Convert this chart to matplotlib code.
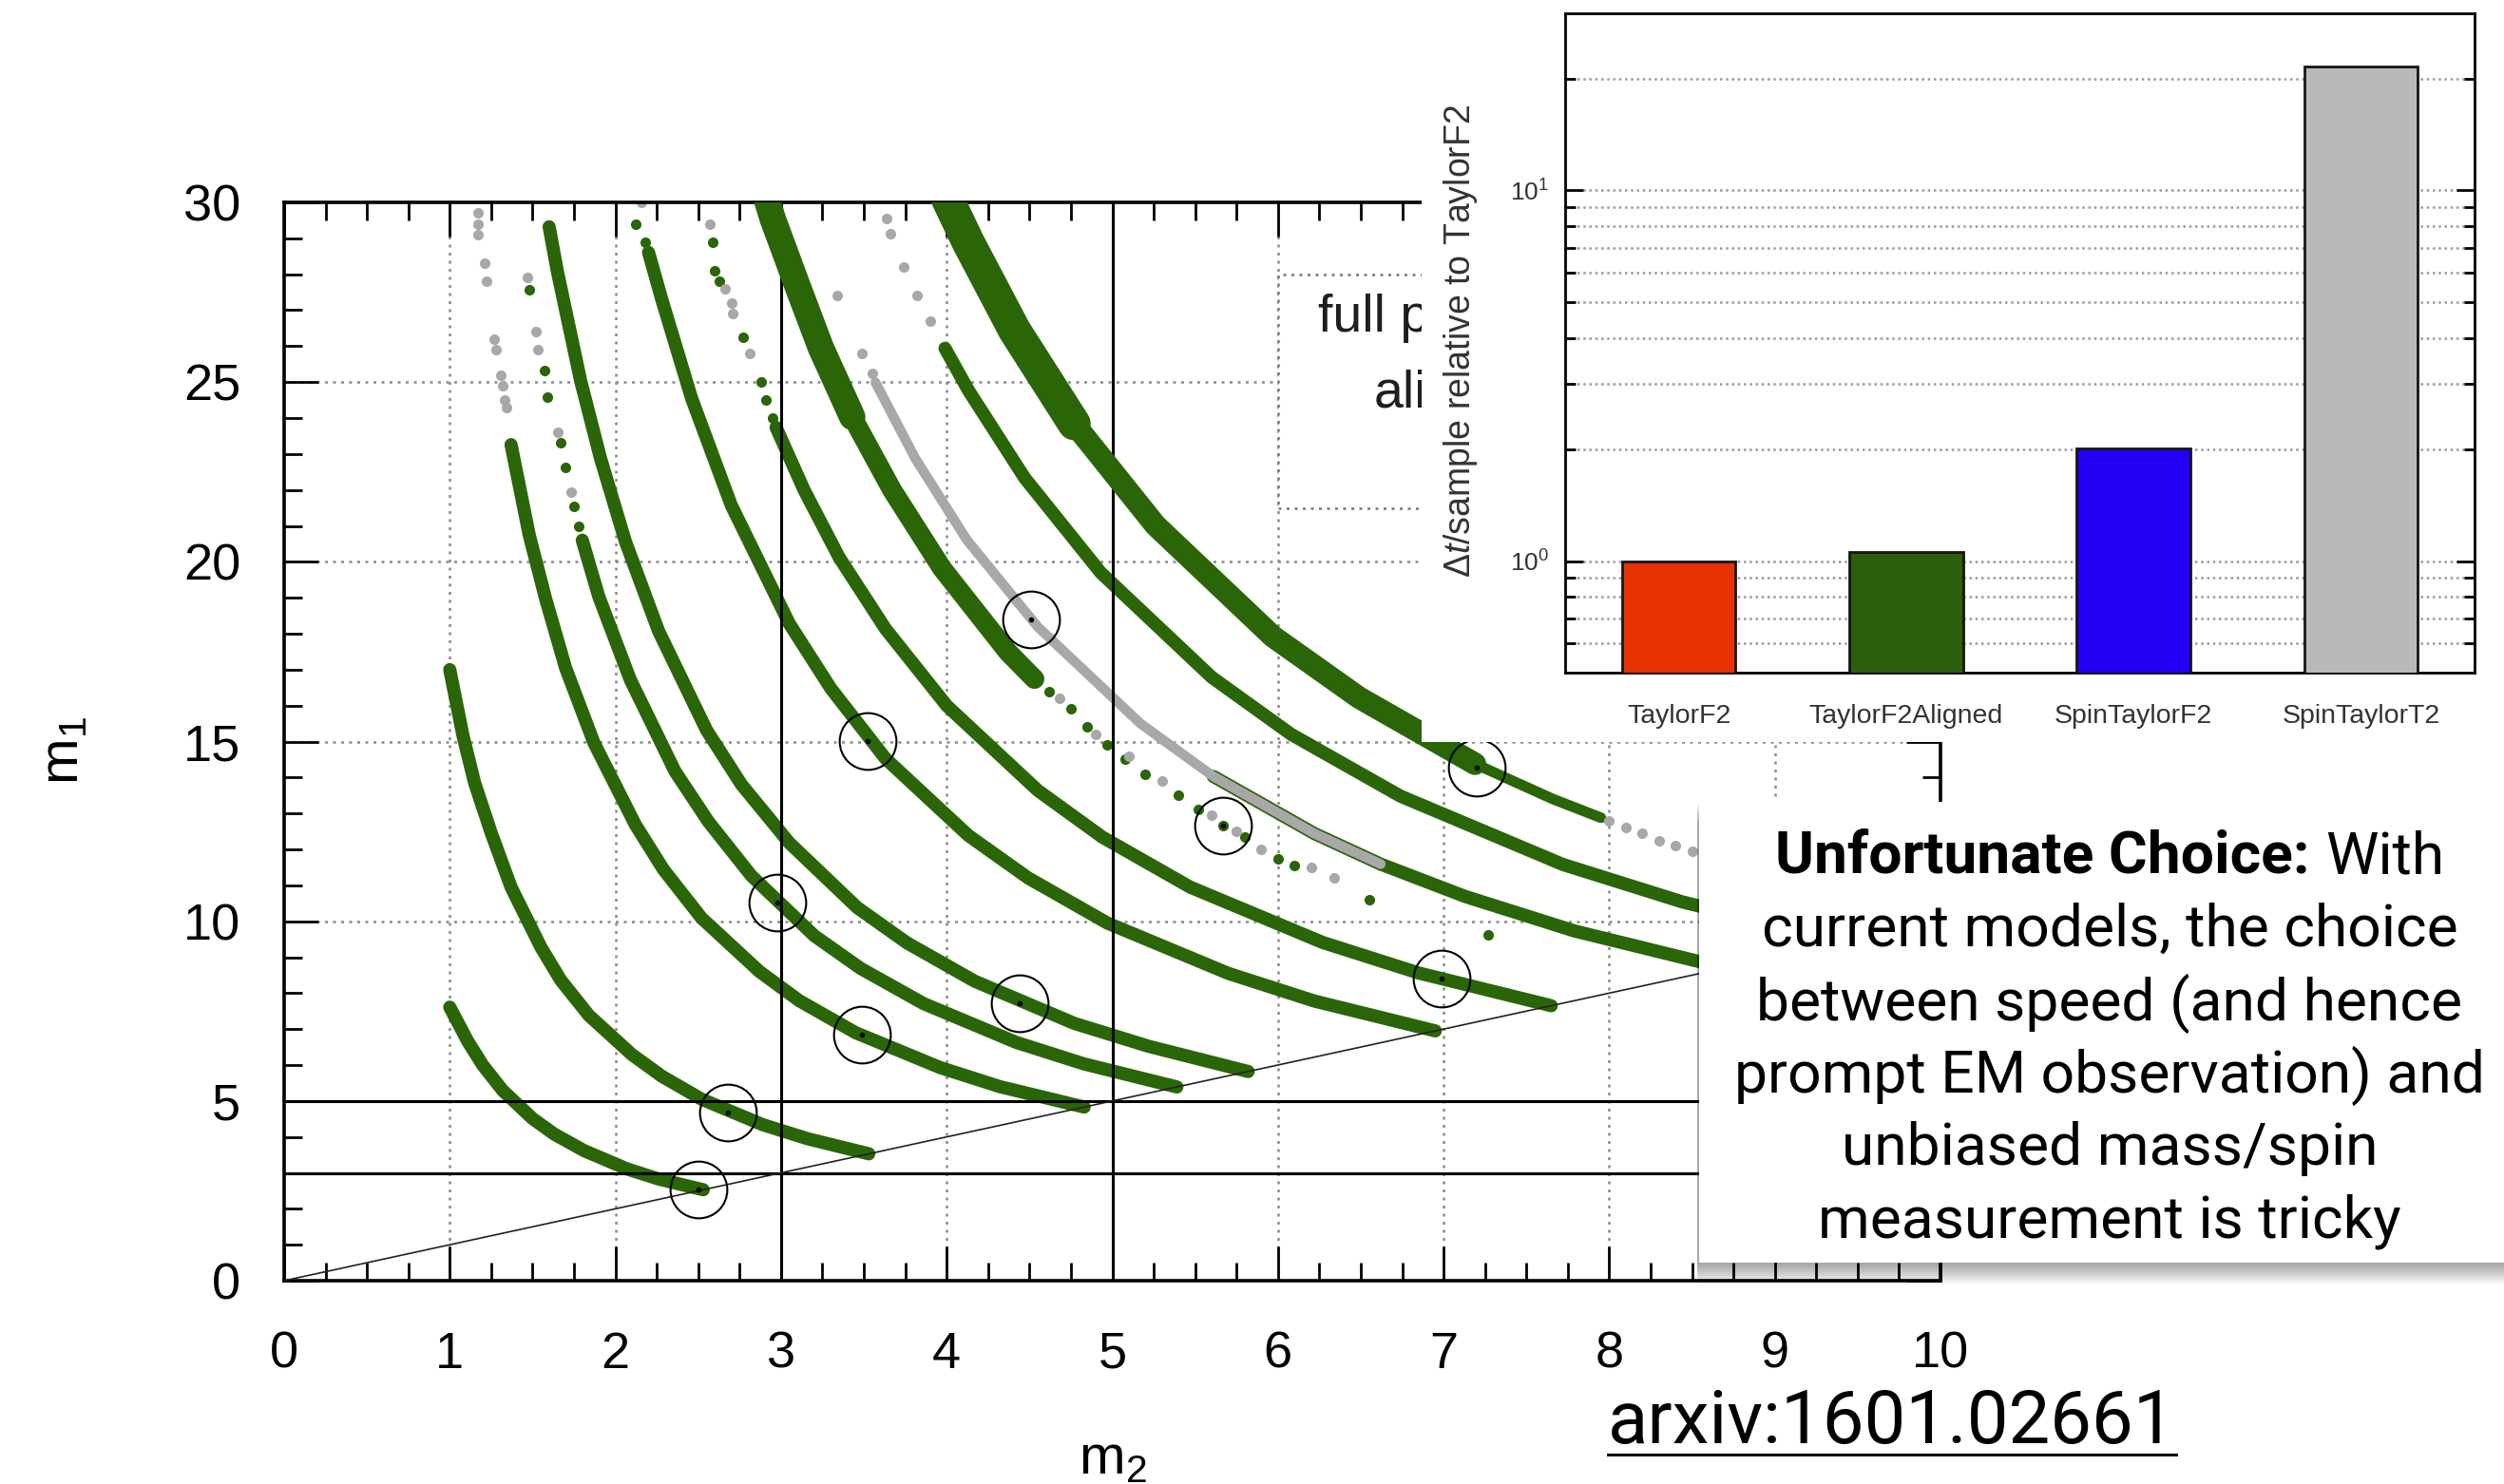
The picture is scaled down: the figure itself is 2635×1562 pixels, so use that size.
import matplotlib
matplotlib.use("Agg")
import matplotlib.pyplot as plt
from matplotlib import font_manager
from matplotlib.patches import Rectangle
from matplotlib.lines import Line2D
from matplotlib.transforms import Bbox
from matplotlib.ticker import MultipleLocator, FixedLocator, FixedFormatter, NullFormatter

plt.rcParams["font.family"] = ["Liberation Sans", "DejaVu Sans"]
plt.rcParams["mathtext.fontset"] = "custom"
plt.rcParams["mathtext.rm"] = "Liberation Sans"
plt.rcParams["mathtext.it"] = "Liberation Sans:italic"
plt.rcParams["mathtext.bf"] = "Liberation Sans:bold"

GREEN = "#2a6608"
GREY = "#a8a8a8"

# ---------------- main panel data (m2, m1), read along each band ----------------
a_m2 = [1.00, 1.04, 1.11, 1.20, 1.32, 1.50, 1.63, 1.81, 2.07, 2.26, 2.53]
a_m1 = [7.61, 7.26, 6.65, 5.99, 5.29, 4.51, 4.08, 3.62, 3.11, 2.83, 2.53]

b_m2 = [1.00, 1.08, 1.15, 1.25, 1.37, 1.55, 1.67, 1.84, 2.10, 2.28, 2.52, 2.89, 3.16, 3.53]
b_m1 = [17.00, 15.16, 13.85, 12.46, 10.95, 9.28, 8.36, 7.38, 6.29, 5.69, 5.05, 4.34, 3.95, 3.53]

c_m2 = [1.37, 1.48, 1.58, 1.70, 1.87, 2.12, 2.29, 2.52, 2.87, 3.11, 3.45, 3.96, 4.32, 4.83]
c_m1 = [23.26, 20.74, 18.95, 17.04, 14.97, 12.69, 11.44, 10.09, 8.60, 7.79, 6.90, 5.93, 5.40, 4.83]
c_grey_m2 = [1.17, 1.17, 1.17, 1.21, 1.22, 1.27, 1.28, 1.31, 1.32, 1.33, 1.34]
c_grey_m1 = [29.7, 29.4, 29.1, 28.3, 27.8, 26.2, 25.9, 25.2, 24.9, 24.5, 24.3]

d_m2 = [1.80, 1.90, 2.09, 2.36, 2.56, 2.82, 3.20, 3.48, 3.86, 4.42, 4.83, 5.39]
d_m1 = [20.6, 19.03, 16.72, 14.17, 12.78, 11.27, 9.60, 8.69, 7.71, 6.63, 6.03, 5.39]
d_dot_m2 = [1.48, 1.57, 1.59, 1.67, 1.70, 1.75, 1.78]
d_dot_m1 = [27.56, 25.31, 24.58, 23.31, 22.62, 21.55, 21.0]
d_grey_m2 = [1.47, 1.52, 1.53, 1.65, 1.73]
d_grey_m1 = [27.9, 26.4, 25.9, 23.6, 21.94]

e_m2 = [1.60, 1.65, 1.79, 1.91, 2.06, 2.26, 2.55, 2.76, 3.05, 3.46, 3.76, 4.17, 4.77, 5.22, 5.82]
e_m1 = [29.32, 28.07, 25.04, 22.88, 20.57, 18.08, 15.32, 13.81, 12.18, 10.38, 9.40, 8.33, 7.16, 6.52, 5.82]

f_m2 = [2.20, 2.28, 2.46, 2.70, 3.05, 3.30, 3.63, 4.13, 4.49, 4.97, 5.70, 6.22, 6.95]
f_m1 = [28.61, 27.30, 24.55, 21.57, 18.28, 16.48, 14.53, 12.39, 11.21, 9.95, 8.55, 7.78, 6.95]
f_dot_m2 = [2.12, 2.18]
f_dot_m1 = [29.4, 28.9]
f_grey_m2 = [2.16]
f_grey_m1 = [30.0]

g_m2 = [2.97, 3.14, 3.35, 3.63, 4.00, 4.55, 4.94, 5.47, 6.27, 6.85, 7.65]
g_m1 = [23.74, 21.99, 20.13, 18.14, 16.00, 13.64, 12.34, 10.95, 9.41, 8.56, 7.65]
g_dot_m2 = [2.59, 2.60, 2.63, 2.77, 2.88, 2.91, 2.95]
g_dot_m1 = [28.9, 28.1, 27.8, 26.25, 25.0, 24.5, 24.0]
g_grey_m2 = [2.57, 2.66, 2.70, 2.71, 2.81]
g_grey_m1 = [29.4, 27.6, 27.2, 26.9, 25.8]

h_top_m2 = [2.84, 2.95, 3.09, 3.24, 3.43]
h_top_m1 = [31.2, 29.54, 27.79, 25.96, 24.03]
h_low_m2 = [3.43, 3.67, 3.97, 4.37, 4.53]
h_low_m1 = [24.03, 22.00, 19.83, 17.49, 16.74]
h_dot_m2 = [4.62, 4.75, 4.85, 4.97, 5.08, 5.20, 5.40, 5.52, 5.67, 5.80, 6.00, 6.10, 6.55, 7.27]
h_dot_m1 = [16.4, 15.9, 15.4, 14.9, 14.5, 14.1, 13.5, 13.1, 12.67, 12.35, 11.74, 11.55, 10.61, 9.62]
h_grey_m2 = [4.68, 4.90, 5.10, 5.30, 5.60, 5.75, 5.90, 6.20, 6.34]
h_grey_m1 = [16.2, 15.2, 14.6, 13.9, 12.95, 12.5, 12.0, 11.5, 11.2]

i_m2 = [5.61, 6.22, 6.62, 7.13, 7.79, 8.70]
i_m1 = [14.03, 12.44, 11.59, 10.69, 9.73, 8.70]
i_grey_m2 = [3.57, 3.81, 4.12, 4.55, 5.17, 5.61, 6.22, 6.62]
i_grey_m1 = [24.99, 22.88, 20.62, 18.19, 15.50, 14.03, 12.44, 11.59]
i_greydot_m2 = [3.34, 3.49, 3.55]
i_greydot_m1 = [27.4, 25.8, 25.25]

j_m2 = [3.99, 4.13, 4.47, 4.93, 5.60, 6.08, 6.74, 7.72, 8.44, 9.42]
j_m1 = [25.94, 24.78, 22.34, 19.70, 16.79, 15.20, 13.48, 11.58, 10.54, 9.42]
j_grey_m2 = [3.64, 3.66, 3.74, 3.82, 3.90]
j_grey_m1 = [29.56, 29.13, 28.2, 27.4, 26.7]

k_top_m2 = [3.90, 4.01, 4.13, 4.41, 4.77]
k_top_m1 = [31.19, 30.05, 28.89, 26.44, 23.84]
k_low_m2 = [4.77, 5.26, 5.97, 6.49, 7.19]
k_low_m1 = [23.84, 21.02, 17.92, 16.22, 14.38]
k_tail_m2 = [7.19, 7.40, 7.66, 7.95]
k_tail_m1 = [14.38, 13.94, 13.40, 12.88]
k_grey_m2 = [8.0, 8.1, 8.2, 8.3, 8.4, 8.5]
k_grey_m1 = [12.8, 12.6, 12.45, 12.25, 12.1, 11.95]

# injected signals (circled)
inj_m2 = [2.50, 2.68, 3.49, 2.98, 3.52, 4.44, 4.51, 5.67, 6.99, 7.20]
inj_m1 = [2.55, 4.67, 6.84, 10.53, 15.02, 7.73, 18.40, 12.67, 8.40, 14.27]

# legend entries, only their left ends peek out from under the inset
key_text = ["full p", "ali"]

# ---------------- inset data ----------------
approx = ["TaylorF2", "TaylorF2Aligned", "SpinTaylorF2", "SpinTaylorT2"]
cost = [1.0, 1.055, 2.01, 21.5]
bar_colors = ["#e63200", "#2c5e0b", "#2200f5", "#b9b9b9"]

note_head = "Unfortunate Choice:"
note_lines = ["With",
              "current models, the choice",
              "between speed (and hence",
              "prompt EM observation) and",
              "unbiased mass/spin",
              "measurement is tricky"]

W, H = 2635.0, 1562.0


def fx(px):
    return px / W


def fy(py):
    return 1.0 - py / H


# a narrower sans for the slide text if one is installed
slide_family = ["Liberation Sans", "DejaVu Sans"]
names = {f.name for f in font_manager.fontManager.ttflist}
for fam in ["Roboto", "Inter", "Lato", "Open Sans"]:
    if fam in names:
        slide_family = [fam, "Liberation Sans", "DejaVu Sans"]
        break

fig = plt.figure(figsize=(W / 100, H / 100), dpi=100)

# ---------------- main m1-m2 plane ----------------
ax = fig.add_axes([fx(299), fy(1348), fx(2042) - fx(299), fy(213) - fy(1348)])
ax.set_xlim(0, 10)
ax.set_ylim(0, 30)

for gx in [1, 2, 4, 6, 7, 8, 9]:
    ax.axvline(gx, color="#8a8a8a", lw=1.8, ls=(0, (1.2, 2.2)), zorder=1)
for gy in [10, 15, 20, 25]:
    ax.axhline(gy, color="#8a8a8a", lw=1.8, ls=(0, (1.2, 2.2)), zorder=1)

# legend box (mostly hidden behind the inset)
ax.add_patch(Rectangle((6, 21.5), 4, 6.5, facecolor="white", edgecolor="#777777",
                       lw=1.8, ls=(0, (1.2, 2.2)), zorder=1.5))
panel_clip = Bbox.from_extents(0, fy(781) * H, 1496, H)
for xt, yt, s in zip([6.24, 6.58], [26.4, 24.3], key_text):
    t = ax.text(xt, yt, s, fontsize=40, color="#1e1e1e", va="baseline", zorder=1.6)
    t.set_clip_box(panel_clip)
    t.set_clip_on(True)

thin = 10
for xs, ys in [(a_m2, a_m1), (b_m2, b_m1), (c_m2, c_m1), (d_m2, d_m1), (e_m2, e_m1),
               (f_m2, f_m1), (g_m2, g_m1), (i_m2, i_m1), (j_m2, j_m1)]:
    ax.plot(xs, ys, color=GREEN, lw=thin, solid_capstyle="round", zorder=2)
ax.plot(i_grey_m2, i_grey_m1, color=GREY, lw=7.5, solid_capstyle="round", zorder=2.2)
ax.plot(k_tail_m2, k_tail_m1, color=GREEN, lw=8, solid_capstyle="round", zorder=2)

for xs, ys in [(d_dot_m2, d_dot_m1), (f_dot_m2, f_dot_m1), (g_dot_m2, g_dot_m1), (h_dot_m2, h_dot_m1)]:
    ax.plot(xs, ys, "o", color=GREEN, ms=8, mew=0, zorder=2.3)
for xs, ys in [(c_grey_m2, c_grey_m1), (d_grey_m2, d_grey_m1), (f_grey_m2, f_grey_m1),
               (g_grey_m2, g_grey_m1), (h_grey_m2, h_grey_m1), (i_greydot_m2, i_greydot_m1),
               (j_grey_m2, j_grey_m1), (k_grey_m2, k_grey_m1)]:
    ax.plot(xs, ys, "o", color=GREY, ms=8, mew=0, zorder=2.3)

# black reference lines and equal-mass diagonal
for v in [3, 5]:
    ax.axvline(v, color="black", lw=2.2, zorder=3)
    ax.axhline(v, color="black", lw=2.2, zorder=3)
ax.plot([0, 10], [0, 10], color="#222222", lw=1.2, zorder=3)

ax.plot(h_top_m2, h_top_m1, color=GREEN, lw=20, solid_capstyle="round", zorder=3.5)
ax.plot(h_low_m2, h_low_m1, color=GREEN, lw=15, solid_capstyle="round", zorder=3.5)
ax.plot(k_top_m2, k_top_m1, color=GREEN, lw=25, solid_capstyle="round", zorder=3.5)
ax.plot(k_low_m2, k_low_m1, color=GREEN, lw=17, solid_capstyle="round", zorder=3.5)

ax.plot(inj_m2, inj_m1, "o", ms=43, mfc="none", mec="black", mew=1.5, zorder=5)
ax.plot(inj_m2, inj_m1, "o", ms=3, color="black", zorder=5)

ax.xaxis.set_major_locator(MultipleLocator(1))
ax.xaxis.set_minor_locator(MultipleLocator(0.25))
ax.yaxis.set_major_locator(MultipleLocator(5))
ax.yaxis.set_minor_locator(MultipleLocator(1))
ax.tick_params(which="both", direction="in", top=True, right=True, width=2)
ax.tick_params(which="major", length=26, labelsize=39)
ax.tick_params(which="minor", length=14)
ax.tick_params(axis="x", pad=38)
ax.tick_params(axis="y", pad=33)
for sp in ax.spines.values():
    sp.set_linewidth(2.6)

fig.text(fx(67), fy(790), "m$_1$", rotation=90, fontsize=42, ha="center", va="center")
fig.text(fx(1171), fy(1536), "m$_2$", fontsize=42, ha="center", va="center")

# ---------------- inset bar chart ----------------
fig.add_artist(Rectangle((fx(1496), fy(781)), 1 - fx(1496), fy(0) - fy(781),
                         transform=fig.transFigure, facecolor="white", edgecolor="none", zorder=2))
ax2 = fig.add_axes([fx(1647), fy(708), fx(2604) - fx(1647), fy(14) - fy(708)], zorder=3)
ax2.set_yscale("log")
ax2.bar(range(len(approx)), cost, width=0.5, color=bar_colors, edgecolor="#151515", lw=2, zorder=3)
ax2.set_xlim(-0.5, 3.5)
ax2.set_ylim(0.5, 30)
ax2.set_xticks(range(len(approx)))
ax2.set_xticklabels(approx)
ax2.yaxis.set_major_locator(FixedLocator([1, 10]))
ax2.yaxis.set_major_formatter(FixedFormatter([r"$10^{0}$", r"$10^{1}$"]))
ax2.yaxis.set_minor_locator(FixedLocator([0.6, 0.7, 0.8, 0.9, 2, 3, 4, 5, 6, 7, 8, 9, 20]))
ax2.yaxis.set_minor_formatter(NullFormatter())
ax2.yaxis.grid(True, which="both", color="#9a9a9a", lw=1.8, ls=(0, (1, 1.5)))
ax2.set_axisbelow(True)
ax2.tick_params(axis="x", length=0, labelsize=20.5, pad=24, labelcolor="#333333")
ax2.tick_params(axis="y", which="both", direction="in", right=True, width=2,
                labelsize=19, pad=12, labelcolor="#333333")
ax2.tick_params(axis="y", which="major", length=14)
ax2.tick_params(axis="y", which="minor", length=8)
for sp in ax2.spines.values():
    sp.set_linewidth(2)
fig.text(fx(1537), fy(359), r"$\Delta t$/sample relative to TaylorF2", rotation=90,
         fontsize=27, ha="center", va="center", color="#333333", zorder=4)

# ---------------- annotation box ----------------
bx0, by0, bx1, by1 = 1788, 844, 2660, 1329
for k in range(1, 12):
    fig.add_artist(Rectangle((fx(bx0 - 2), fy(by1 + 2 * k)), fx(bx1) - fx(bx0),
                             fy(by0 + 2 * k) - fy(by1 + 2 * k),
                             transform=fig.transFigure, facecolor="black", edgecolor="none",
                             alpha=0.035, zorder=4.5))
fig.add_artist(Rectangle((fx(bx0), fy(by1)), fx(bx1) - fx(bx0), fy(by0) - fy(by1),
                         transform=fig.transFigure, facecolor="white", edgecolor="none", zorder=5))

renderer = fig.canvas.get_renderer()
baselines = [919.5, 995.8, 1073.8, 1150.0, 1226.4, 1302.6]
cx = 2220
body = []
for line, yb in zip(note_lines, baselines):
    body.append(fig.text(fx(cx), fy(yb), line, fontsize=45, family=slide_family,
                         ha="center", va="baseline", zorder=6))
# size the slide font so that the second line spans its width in the reference
scale = 733.0 / body[1].get_window_extent(renderer).width
size = 45 * scale
for t in body:
    t.set_fontsize(size)
head = fig.text(0, fy(baselines[0]), note_head, fontsize=size, family=slide_family,
                weight="bold", ha="left", va="baseline", zorder=6)
w_head = head.get_window_extent(renderer).width
w_with = body[0].get_window_extent(renderer).width
gap = 0.26 * size * 100 / 72
x_start = cx - (w_head + gap + w_with) / 2
head.set_x(fx(x_start))
body[0].set_horizontalalignment("left")
body[0].set_x(fx(x_start + w_head + gap))

# ---------------- reference ----------------
ref = fig.text(fx(1991), fy(1519), "arxiv:1601.02661", fontsize=56, family=slide_family,
               ha="center", va="baseline")
ref.set_fontsize(56 * 597.0 / ref.get_window_extent(renderer).width)
bb = ref.get_window_extent(renderer)
fig.add_artist(Line2D([bb.x0 / W, bb.x1 / W], [fy(1531), fy(1531)], transform=fig.transFigure,
                      color="black", lw=2.2))

fig.savefig("out.png", dpi=100)
